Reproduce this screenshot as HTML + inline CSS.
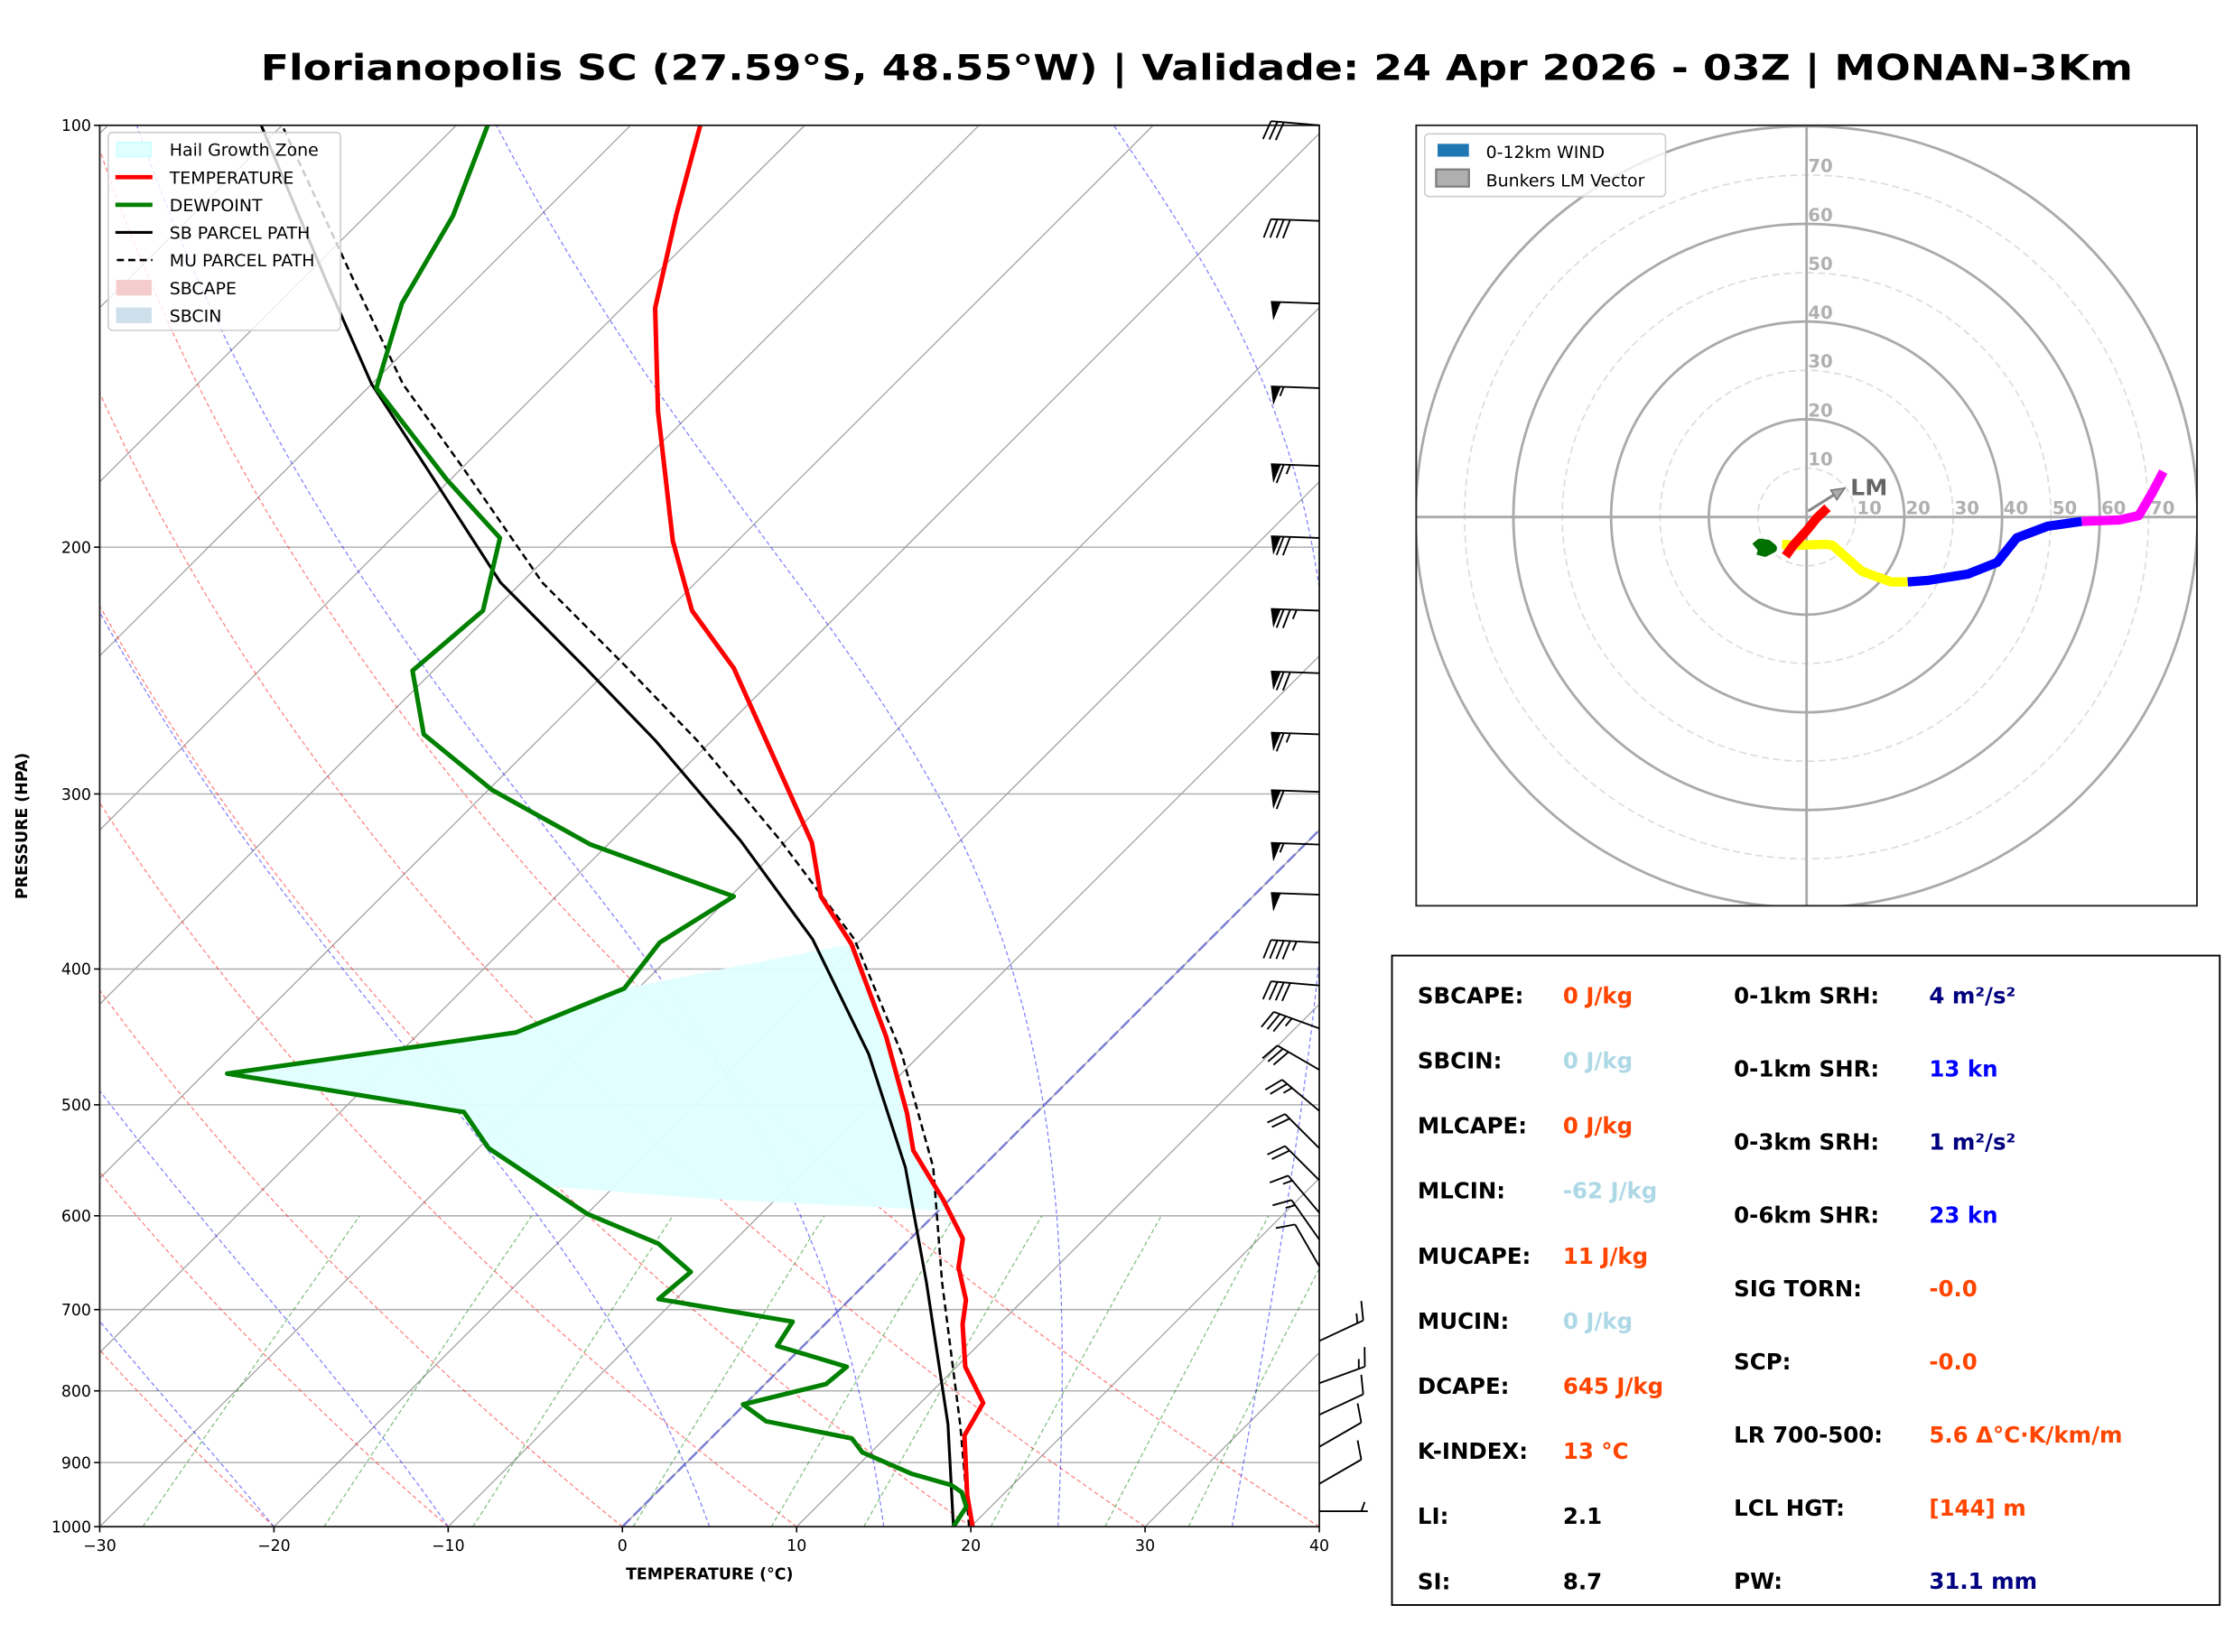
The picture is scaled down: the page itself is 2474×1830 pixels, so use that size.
<!DOCTYPE html>
<html><head><meta charset="utf-8">
<style>
html,body{margin:0;padding:0;background:#fff;}
svg{display:block;}
text{font-family:"DejaVu Sans","Liberation Sans",sans-serif;}
</style></head>
<body>
<svg id="fig" xmlns="http://www.w3.org/2000/svg" width="2474" height="1830" viewBox="0 0 1568 1160" preserveAspectRatio="none">
<defs>
<clipPath id="skewclip"><rect x="70" y="88" width="856" height="984"/></clipPath>
<clipPath id="hodoclip"><rect x="994" y="88" width="548" height="548"/></clipPath>
</defs>
<rect x="0" y="0" width="1568" height="1160" fill="#fff"/>
<text x="840" y="56" text-anchor="middle" font-size="25" font-weight="bold" textLength="1314" lengthAdjust="spacingAndGlyphs">Florianopolis SC (27.59°S, 48.55°W) | Validade: 24 Apr 2026 - 03Z | MONAN-3Km</text>
<g id="skew"></g>
<g id="hodo"></g>
<g id="panel"></g>
</svg>
<script>
// ---------------- DATA ----------------
const tempP = [1000,950,861,816,769,717,689,653,623,584,539,507,447,384,355,325,244,222,198,160,135,116,100];
const tempT = [20.1,18.0,14.4,13.6,10.5,7.9,6.7,4.4,3.0,-0.4,-4.9,-7.4,-13.0,-20.3,-24.8,-28.4,-42.9,-48.6,-53.7,-62.0,-68.1,-72.2,-76.0];
const dewP = [1000,968,945,934,917,885,865,841,818,791,769,743,714,688,658,628,598,537,506,475,444,413,383,355,326,298,272,245,222,197,179,154,134,116,100];
const dewT = [19.0,18.6,17.5,16.5,13.6,9.5,8.1,2.2,-0.1,3.5,3.7,-1.5,-2.0,-11.0,-10.7,-14.2,-20.0,-29.4,-32.9,-48.7,-34.5,-30.8,-31.4,-29.8,-41.0,-49.8,-56.9,-61.2,-60.6,-63.8,-70.2,-79.5,-82.9,-85.0,-88.2];
const sbP = [1000,845,669,554,460,381,324,275,244,212,176,153,130,100];
const sbT = [19.0,12.8,3.4,-4.4,-13.0,-22.8,-32.6,-43.2,-51.4,-61.2,-71.9,-80.0,-88.2,-101.2];
const muP = [1000,845,669,554,460,381,324,275,244,212,176,153,130,100];
const muT = [19.9,13.5,4.3,-2.8,-11.1,-20.4,-30.3,-40.8,-49.0,-58.8,-69.8,-78.2,-86.6,-100.0];
const windP = [100,117,134,154,175,197,222,246,272,299,326,354,383,411,441,472,505,537,566,597,624,652,737,790,832,877,932,975];
const windDir = [275,272,272,272,272,272,272,272,272,272,272,272,273,275,290,300,310,315,315,320,325,330,65,70,65,60,60,90];
const windSpd = [30,40,50,55,65,70,75,70,65,60,55,50,45,40,35,30,25,20,20,15,15,10,15,15,12,10,10,5];
const hodoRedU = [-4.3,-2.7,0,2,4.3];
const hodoRedV = [-8.0,-5.8,-2.8,-0.3,1.9];
const hodoGreenU = [-10.5,-9.5,-8.0,-7.0,-8.5,-10.0];
const hodoGreenV = [-6.2,-5.4,-5.6,-6.4,-7.2,-6.8];
const hodoYellowU = [-5,-2,4,5.3,11.3,17.3,20.7];
const hodoYellowV = [-5.6,-5.8,-5.6,-5.8,-11.1,-13.3,-13.3];
const hodoBlueU = [20.7,24.7,33,39,43,49.3,56.3];
const hodoBlueV = [-13.3,-13,-11.7,-9.3,-4.3,-1.9,-0.9];
const hodoMagU = [56.3,64,68,70.7,73];
const hodoMagV = [-0.9,-0.6,0.3,4.9,9.3];
const lmU = [0.3,7.8];
const lmV = [1.2,5.9];
const tempTicks = [-30,-20,-10,0,10,20,30,40];
const presTicks = [100,200,300,400,500,600,700,800,900,1000];
const ringKts = [10,20,30,40,50,60,70,80];
const ringLabels = [10,20,30,40,50,60,70];

// ---------------- HELPERS ----------------
const NS = "http://www.w3.org/2000/svg";
function mk(tag, attrs, parent){const e=document.createElementNS(NS,tag);for(const k in attrs)e.setAttribute(k,attrs[k]);if(parent)parent.appendChild(e);return e;}
const X0=70,X1=926,Y0=88,Y1=1072,PPD=856/70;
function yOf(p){return Y1-Math.log10(1000/p)*984;}
function xOf(T,p){return X0+(T+30)*PPD+(Y1-yOf(p));}
function pathFrom(Ts,Ps){return Ts.map((t,i)=>(i?'L':'M')+xOf(t,Ps[i]).toFixed(2)+','+yOf(Ps[i]).toFixed(2)).join(' ');}

const skew=document.getElementById('skew');
const bg=mk('g',{'clip-path':'url(#skewclip)'},skew);



for(const p of presTicks){
  const l=mk('line',{x1:X0,x2:X1,y1:yOf(p),y2:yOf(p),stroke:'#b0b0b0','stroke-width':1},bg);
  
  
}
for(let T=-120;T<=40;T+=10){
  const l=mk('line',{x1:xOf(T,1000),y1:yOf(1000),x2:xOf(T,100),y2:yOf(100),stroke:'#a0a0a0','stroke-width':0.8},bg);
  
  
}
for(let th=-30;th<=40;th+=10){
  let d='';for(let p=1000;p>=100;p-=10){const T=(th+273.15)*Math.pow(p/1000,0.2857)-273.15;d+=(p===1000?'M':'L')+xOf(T,p).toFixed(1)+','+yOf(p).toFixed(1);}
  const e=mk('path',{d:d,fill:'none',stroke:'#ff0000','stroke-opacity':0.5,'stroke-width':0.8,'stroke-dasharray':'3,2'},bg);
  
  
}
function dTdp(T,p){const es=6.112*Math.exp(17.67*(T-273.15)/(T-29.65));const rs=0.622*es/(p-es);return (287*T+2.501e6*rs)/p/(1005+2.501e6*2.501e6*rs*0.622/(287*T*T));}
for(const t0 of [-30,-20,-10,5,15,25,35]){
  let T=t0+273.15,d='M'+xOf(t0,1000).toFixed(1)+','+yOf(1000).toFixed(1);
  for(let p=1000;p>100;p-=5){const k1=dTdp(T,p),k2=dTdp(T-2.5*k1,p-2.5);T=T-5*k2;d+='L'+xOf(T-273.15,p-5).toFixed(1)+','+yOf(p-5).toFixed(1);}
  const e=mk('path',{d:d,fill:'none',stroke:'#0000ff','stroke-opacity':0.5,'stroke-width':0.8,'stroke-dasharray':'3,2'},bg);
  
  
}
for(const w of [0.0004,0.001,0.002,0.004,0.007,0.01,0.016,0.024,0.032]){
  let d='';for(let p=1000;p>=600;p-=20){const e=w*p/(0.622+w);const l=Math.log(e/6.112);const Td=243.5*l/(17.67-l);d+=(p===1000?'M':'L')+xOf(Td,p).toFixed(1)+','+yOf(p).toFixed(1);}
  const e=mk('path',{d:d,fill:'none',stroke:'#008000','stroke-opacity':0.5,'stroke-width':0.8,'stroke-dasharray':'3,2'},bg);
  
  
}
const zi=mk('line',{x1:xOf(0,1000),y1:yOf(1000),x2:xOf(0,100),y2:yOf(100),stroke:'#6a6ad8','stroke-width':1.6,'stroke-dasharray':'8,3','stroke-opacity':0.8},bg);



const hz=mk('polygon',{points:'438,694 597,663 622,728 636,782 641,808 662,842 664,850 500,842 384,833 343,806 325,781 159,754 362,725',fill:'#e0ffff','fill-opacity':0.95},bg);



const fg=mk('g',{'clip-path':'url(#skewclip)'},skew);


const sbl=mk('path',{d:pathFrom(sbT,sbP),fill:'none',stroke:'#000','stroke-width':2},fg);


const mul=mk('path',{d:pathFrom(muT,muP),fill:'none',stroke:'#000','stroke-width':1.6,'stroke-dasharray':'5,3'},fg);


const tl=mk('path',{d:pathFrom(tempT,tempP),fill:'none',stroke:'#ff0000','stroke-width':3.2,'stroke-linejoin':'round'},fg);


const dl=mk('path',{d:pathFrom(dewT,dewP),fill:'none',stroke:'#008000','stroke-width':3.2,'stroke-linejoin':'round'},fg);



const fr=mk('rect',{x:X0,y:Y0,width:X1-X0,height:Y1-Y0,fill:'none',stroke:'#222','stroke-width':1.2},skew);



for(const T of tempTicks){
  const x=X0+(T+30)*PPD;
  const tk=mk('line',{x1:x,x2:x,y1:Y1,y2:Y1+4,stroke:'#000','stroke-width':1},skew);
  
  
  const t=mk('text',{x:x,y:Y1+17,'text-anchor':'middle','font-size':11},skew);
  t.textContent=(T<0?'\u2212'+(-T):T);
  
  
}
for(const p of presTicks){
  const y=yOf(p);
  const tk=mk('line',{x1:X0-4,x2:X0,y1:y,y2:y,stroke:'#000','stroke-width':1},skew);
  
  
  const t=mk('text',{x:X0-6,y:y+4,'text-anchor':'end','font-size':11},skew);
  t.textContent=p;
  
  
}
const xt=mk('text',{x:498,y:1109,'text-anchor':'middle','font-size':11,'font-weight':'bold'},skew);
xt.textContent='TEMPERATURE (°C)';


const yt=mk('text',{x:0,y:0,'text-anchor':'middle','font-size':11,'font-weight':'bold',transform:'translate(19,580) rotate(-90)'},skew);
yt.textContent='PRESSURE (HPA)';



const wb=mk('g',{stroke:'#000','stroke-width':1.2,fill:'#000'},skew);


windP.forEach((p,i)=>{
  const ox=926,oy=yOf(p),L=34,B=13,sp=4.5;
  const a=windDir[i]*Math.PI/180,sx=Math.sin(a),sy=-Math.cos(a);
  const px=sy,py=-sx;
  const g=mk('g',{},wb);
  
  
  mk('line',{x1:ox,y1:oy,x2:ox+sx*L,y2:oy+sy*L},g);
  let s=Math.round(windSpd[i]/5)*5,pos=L;
  while(s>=50){const bx=ox+sx*pos,by=oy+sy*pos,w=7;
    mk('polygon',{points:`${bx},${by} ${bx-sx*w},${by-sy*w} ${bx-sx*w*0.3+px*B},${by-sy*w*0.3+py*B}`,stroke:'none'},g);
    pos-=w+2;s-=50;}
  while(s>=10){const bx=ox+sx*pos,by=oy+sy*pos;
    mk('line',{x1:bx,y1:by,x2:bx+px*B+sx*B*0.35,y2:by+py*B+sy*B*0.35},g);pos-=sp;s-=10;}
  if(s>=5){if(pos===L)pos-=sp;const bx=ox+sx*pos,by=oy+sy*pos;
    mk('line',{x1:bx,y1:by,x2:bx+px*B*0.5+sx*B*0.18,y2:by+py*B*0.5+sy*B*0.18},g);}
});

const lg=mk('g',{},skew);


mk('rect',{x:76,y:93,width:163,height:139,rx:3,fill:'#fff','fill-opacity':0.8,stroke:'#ccc','stroke-width':1},lg);
const legItems=[['Hail Growth Zone','patch','#e0ffff','#c8ffff'],['TEMPERATURE','line','#ff0000'],['DEWPOINT','line','#008000'],['SB PARCEL PATH','line','#000'],['MU PARCEL PATH','dash','#000'],['SBCAPE','patch','#f4cccc','#f4cccc'],['SBCIN','patch','#cfe0ed','#cfe0ed']];
legItems.forEach((it,i)=>{
  const y=105+i*19.4;
  const e=mk('g',{},lg);
  
  
  if(it[1]==='patch')mk('rect',{x:82,y:y-5,width:24,height:10,fill:it[2],stroke:it[3]},e);
  else if(it[1]==='line')mk('line',{x1:81,x2:107,y1:y,y2:y,stroke:it[2],'stroke-width':it[2]==='#000'?2:3},e);
  else mk('line',{x1:82,x2:107,y1:y,y2:y,stroke:it[2],'stroke-width':1.6,'stroke-dasharray':'5,3'},e);
  const t=mk('text',{x:119,y:y+4.5,'font-size':12},e);
  t.textContent=it[0];
});

// ---------------- HODOGRAPH ----------------
const hodo=document.getElementById('hodo');
const HC=[1268,363],KP=3.43;
function hx(u){return HC[0]+u*KP;}
function hy(v){return HC[1]-v*KP;}
const hb=mk('g',{'clip-path':'url(#hodoclip)'},hodo);


for(const r of ringKts){
  const c=mk('circle',{cx:HC[0],cy:HC[1],r:r*KP,fill:'none',stroke:r%20===0?'#aaa':'#ddd','stroke-width':r%20===0?1.8:1.1,'stroke-dasharray':r%20===0?'none':'5,3'},hb);
  
  
}
const hl1=mk('line',{x1:994,x2:1542,y1:HC[1],y2:HC[1],stroke:'#aaa','stroke-width':1.8},hb);


const hl2=mk('line',{x1:HC[0],x2:HC[0],y1:88,y2:636,stroke:'#aaa','stroke-width':1.8},hb);


for(const r of ringLabels){
  const t1=mk('text',{x:hx(r)+1,y:HC[1]-2,'font-size':12.5,'font-weight':'bold',fill:'#b0b0b0'},hb);
  t1.textContent=r;
  
  
  const t2=mk('text',{x:HC[0]+1,y:hy(r)-2,'font-size':12.5,'font-weight':'bold',fill:'#b0b0b0'},hb);
  t2.textContent=r;
  
  
}
function hpath(U,V){return U.map((u,i)=>(i?'L':'M')+hx(u).toFixed(1)+','+hy(V[i]).toFixed(1)).join(' ');}
const segs=[['yellow',hodoYellowU,hodoYellowV,'#ffff00'],['blue',hodoBlueU,hodoBlueV,'#0000ff'],['magenta',hodoMagU,hodoMagV,'#ff00ff'],['red',hodoRedU,hodoRedV,'#ff0000'],['green',hodoGreenU,hodoGreenV,'#007000']];
segs.forEach(s=>{
  const e=mk('path',{d:hpath(s[1],s[2]),fill:'none',stroke:s[3],'stroke-width':6.5,'stroke-linejoin':'round'},hb);
  
  
});
const ax1=hx(lmU[0]),ay1=hy(lmV[0]),ax2=hx(lmU[1]),ay2=hy(lmV[1]);
const ang=Math.atan2(ay2-ay1,ax2-ax1);
const lma=mk('g',{},hb);


mk('line',{x1:ax1,y1:ay1,x2:ax2-7*Math.cos(ang),y2:ay2-7*Math.sin(ang),stroke:'#888','stroke-width':2},lma);
mk('polygon',{points:`${ax2},${ay2} ${ax2-9*Math.cos(ang)+4*Math.sin(ang)},${ay2-9*Math.sin(ang)-4*Math.cos(ang)} ${ax2-9*Math.cos(ang)-4*Math.sin(ang)},${ay2-9*Math.sin(ang)+4*Math.cos(ang)}`,fill:'#aaa',stroke:'#777','stroke-width':1},lma);
const lmt=mk('text',{x:ax2+4,y:ay2+5,'font-size':16,'font-weight':'bold',fill:'#666'},hb);
lmt.textContent='LM';


const hf=mk('rect',{x:994,y:88,width:548,height:548,fill:'none',stroke:'#222','stroke-width':1.2},hodo);


const hlg=mk('g',{},hodo);


mk('rect',{x:1000,y:94,width:169,height:44,rx:3,fill:'#fff','fill-opacity':0.8,stroke:'#ccc'},hlg);
mk('rect',{x:1009,y:101,width:22,height:9,fill:'#1f77b4'},hlg);
mk('rect',{x:1008,y:119,width:23,height:12,fill:'#b0b0b0',stroke:'#808080','stroke-width':1.5},hlg);
const hlt1=mk('text',{x:1043,y:111,'font-size':12},hlg);
hlt1.textContent='0-12km WIND';


const hlt2=mk('text',{x:1043,y:131,'font-size':12},hlg);
hlt2.textContent='Bunkers LM Vector';



// ---------------- PANEL ----------------
const panel=document.getElementById('panel');
const pb=mk('rect',{x:977,y:671,width:581,height:456,fill:'#fff',stroke:'#000','stroke-width':1.2},panel);


const OR='#ff4500',LB='#add8e6',NV='#000080',BL='#0000ff',BK='#000';
const col1=[['SBCAPE:','0 J/kg',OR],['SBCIN:','0 J/kg',LB],['MLCAPE:','0 J/kg',OR],['MLCIN:','-62 J/kg',LB],['MUCAPE:','11 J/kg',OR],['MUCIN:','0 J/kg',LB],['DCAPE:','645 J/kg',OR],['K-INDEX:','13 °C',OR],['LI:','2.1',BK],['SI:','8.7',BK]];
const col2=[['0-1km SRH:','4 m²/s²',NV],['0-1km SHR:','13 kn',BL],['0-3km SRH:','1 m²/s²',NV],['0-6km SHR:','23 kn',BL],['SIG TORN:','-0.0',OR],['SCP:','-0.0',OR],['LR 700-500:','5.6 Δ°C·K/km/m',OR],['LCL HGT:','[144] m',OR],['PW:','31.1 mm',NV]];
col1.forEach((r,i)=>{
  const y=699+i*45.7+5.5;
  const a=mk('text',{x:995,y:y,'font-size':15.5,'font-weight':'bold',fill:'#000'},panel);
  a.textContent=r[0];
  
  
  const b=mk('text',{x:1097,y:y,'font-size':15.5,'font-weight':'bold',fill:r[2]},panel);
  b.textContent=r[1];
  
  
});
col2.forEach((r,i)=>{
  const y=699+i*51.4+5.5;
  const a=mk('text',{x:1217,y:y,'font-size':15.5,'font-weight':'bold',fill:'#000'},panel);
  a.textContent=r[0];
  
  
  const b=mk('text',{x:1354,y:y,'font-size':15.5,'font-weight':'bold',fill:r[2]},panel);
  b.textContent=r[1];
  
  
});
</script>
</body></html>
